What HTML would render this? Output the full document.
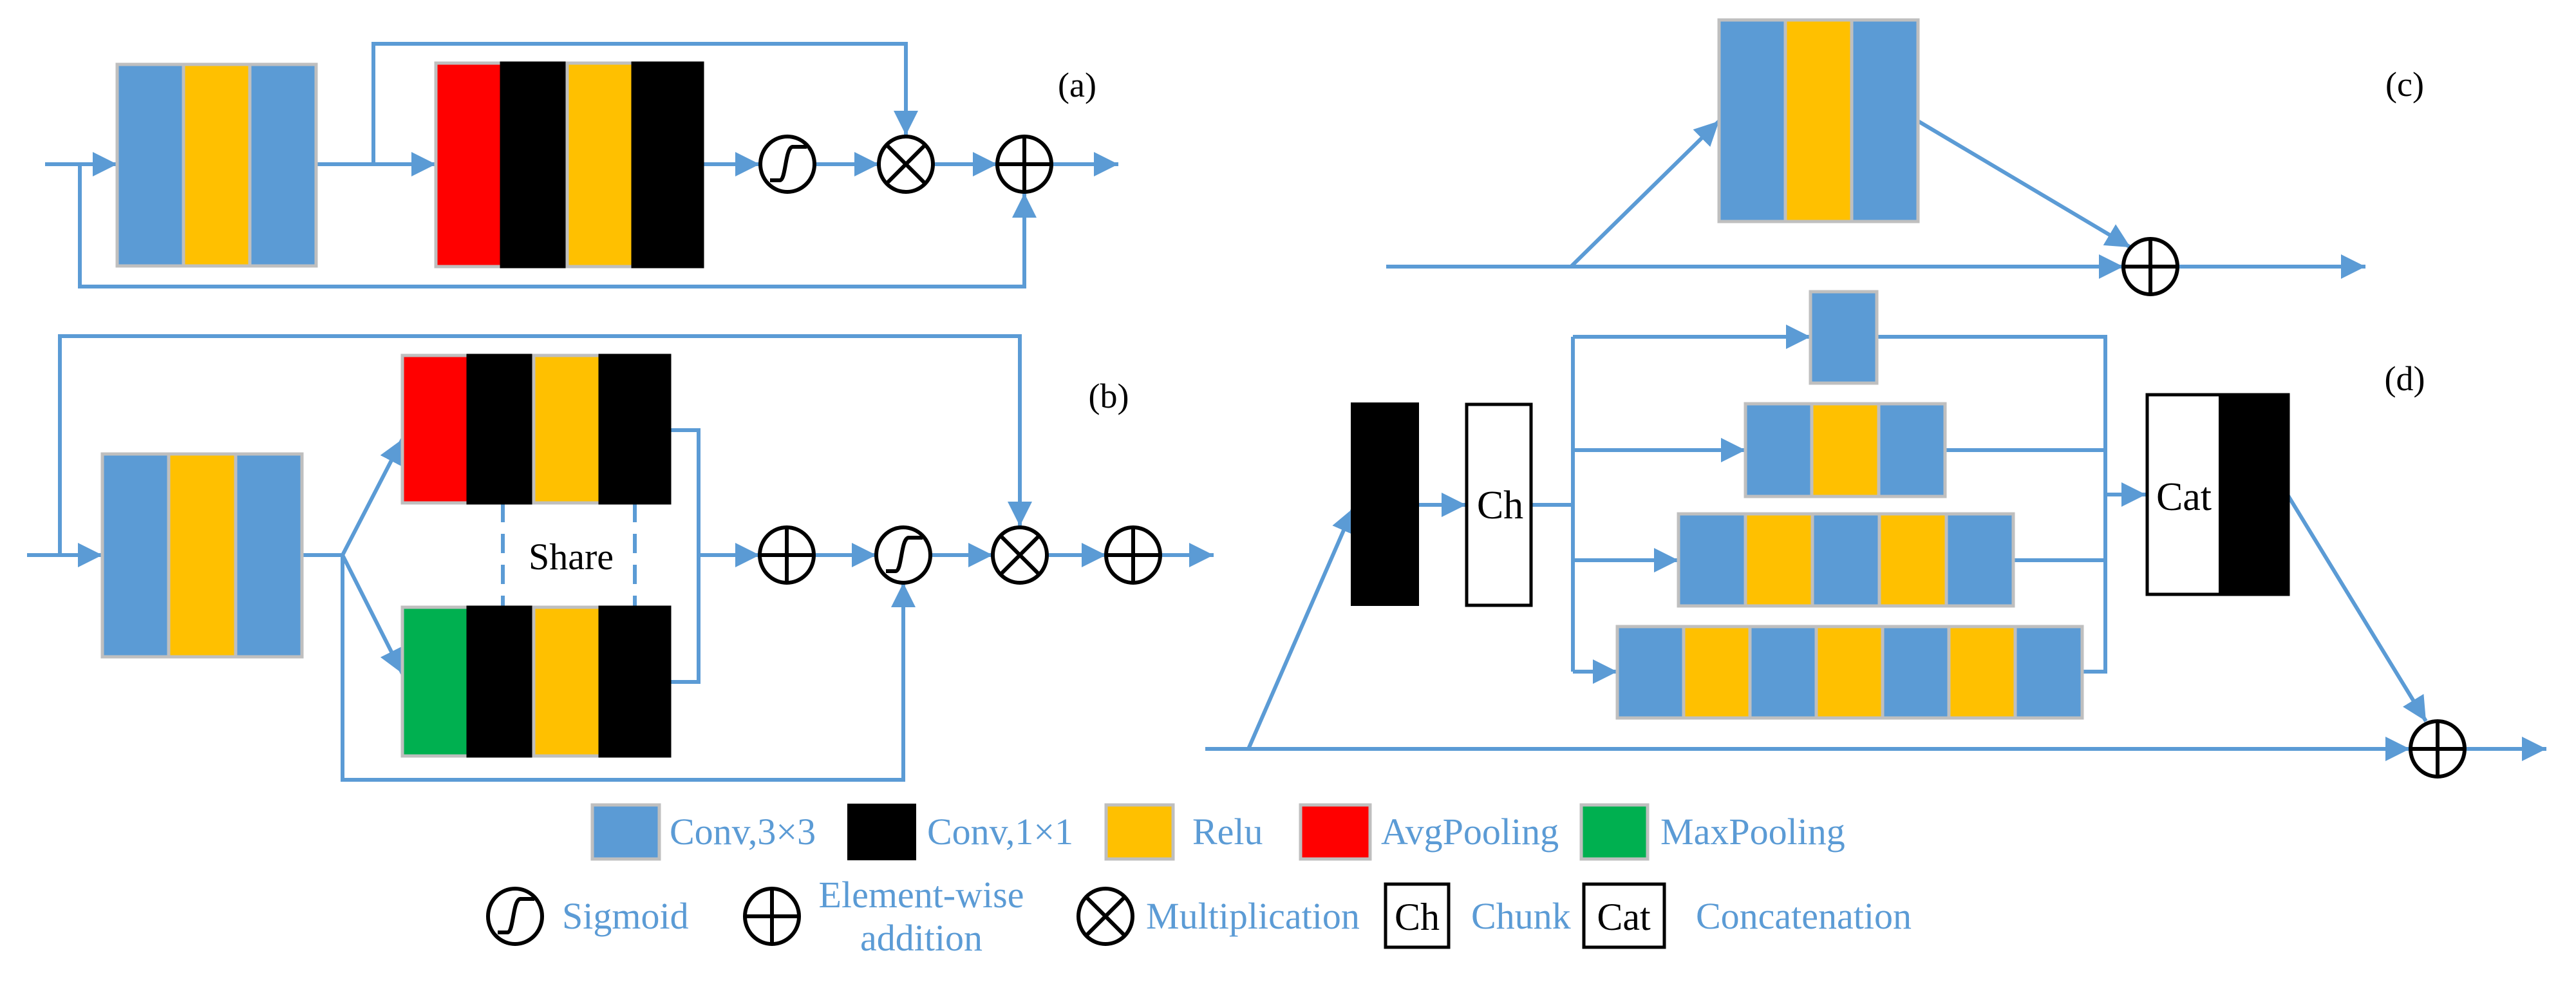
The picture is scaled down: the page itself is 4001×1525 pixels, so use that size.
<!DOCTYPE html>
<html><head><meta charset="utf-8"><style>html,body{margin:0;padding:0;background:#fff}svg{display:block}text{font-family:"Liberation Serif","Times New Roman",serif}</style></head><body>
<svg width="4001" height="1525" viewBox="0 0 4001 1525" xmlns="http://www.w3.org/2000/svg">
<defs>
<marker id="ar" markerUnits="userSpaceOnUse" markerWidth="40" markerHeight="40" refX="38" refY="19" orient="auto"><path d="M0,0 L38,19 L0,38 z" fill="#5b9bd5"/></marker>
<g id="sig"><ellipse cx="0" cy="0" rx="42" ry="43" fill="#fff" stroke="#000" stroke-width="6"/><path d="M-27,25 H-12 C-2,25 -4,-25 8,-27 H30" fill="none" stroke="#000" stroke-width="6"/></g>
<g id="add"><ellipse cx="0" cy="0" rx="42" ry="43" fill="#fff" stroke="#000" stroke-width="6"/><path d="M0,-43 V43 M-42,0 H42" stroke="#000" stroke-width="6"/></g>
<g id="mul"><ellipse cx="0" cy="0" rx="42" ry="43" fill="#fff" stroke="#000" stroke-width="6"/><path d="M-30,-30 L30,30 M30,-30 L-30,30" stroke="#000" stroke-width="6"/></g>
</defs>
<g fill="none" stroke="#5b9bd5" stroke-width="6">
<path d="M70,255 H182" marker-end="url(#ar)"/>
<path d="M124,255 V445 H1591 V300" marker-end="url(#ar)"/>
<path d="M491,255 H677" marker-end="url(#ar)"/>
<path d="M580,255 V68 H1407 V210" marker-end="url(#ar)"/>
<path d="M1091,255 H1180" marker-end="url(#ar)"/>
<path d="M1266,255 H1365" marker-end="url(#ar)"/>
<path d="M1450,255 H1549" marker-end="url(#ar)"/>
<path d="M1634,255 H1737" marker-end="url(#ar)"/>
<path d="M42,862 H159" marker-end="url(#ar)"/>
<path d="M93,862 V522 H1584 V817" marker-end="url(#ar)"/>
<path d="M469,862 H532"/>
<path d="M532,862 L625,682" marker-end="url(#ar)"/>
<path d="M532,862 L625,1046" marker-end="url(#ar)"/>
<path d="M532,862 V1211 H1403 V905" marker-end="url(#ar)"/>
<path d="M1040,668 H1085 V1059 H1040"/>
<path d="M1085,862 H1180" marker-end="url(#ar)"/>
<path d="M1264,862 H1361" marker-end="url(#ar)"/>
<path d="M1445,862 H1542" marker-end="url(#ar)"/>
<path d="M1626,862 H1718" marker-end="url(#ar)"/>
<path d="M1802,862 H1885" marker-end="url(#ar)"/>
<path d="M2153,414 H3298" marker-end="url(#ar)"/>
<path d="M2440,414 L2670,188" marker-end="url(#ar)"/>
<path d="M2979,188 L3309,384" marker-end="url(#ar)"/>
<path d="M3382,414 H3674" marker-end="url(#ar)"/>
<path d="M1872,1163 H3743" marker-end="url(#ar)"/>
<path d="M1939,1163 L2102,789" marker-end="url(#ar)"/>
<path d="M2204,784 H2277" marker-end="url(#ar)"/>
<path d="M2379,784 H2443 M2443,523 V1043"/>
<path d="M2443,523 H2812" marker-end="url(#ar)"/>
<path d="M2443,699 H2711" marker-end="url(#ar)"/>
<path d="M2443,870 H2607" marker-end="url(#ar)"/>
<path d="M2443,1043 H2512" marker-end="url(#ar)"/>
<path d="M2915,523 H3270 V1043 H3234 M3021,699 H3270 M3127,870 H3270"/>
<path d="M3270,768 H3333" marker-end="url(#ar)"/>
<path d="M3554,770 L3768,1120" marker-end="url(#ar)"/>
<path d="M3829,1163 H3955" marker-end="url(#ar)"/>
<path d="M781,781 V943 M986,781 V943" stroke-dasharray="30,18"/>
</g>
<g stroke="#bfbfbf" stroke-width="5">
<rect x="182" y="100" width="103" height="313" fill="#5b9bd5"/><rect x="285" y="100" width="103" height="313" fill="#ffc000"/><rect x="388" y="100" width="103" height="313" fill="#5b9bd5"/>
<rect x="677" y="98" width="102" height="316" fill="#ff0000"/><rect x="779" y="98" width="102" height="316" fill="#000" stroke="#000"/><rect x="881" y="98" width="102" height="316" fill="#ffc000"/><rect x="983" y="98" width="108" height="316" fill="#000" stroke="#000"/>
<rect x="159" y="705" width="103" height="315" fill="#5b9bd5"/><rect x="262" y="705" width="104" height="315" fill="#ffc000"/><rect x="366" y="705" width="103" height="315" fill="#5b9bd5"/>
<rect x="625" y="552" width="102" height="229" fill="#ff0000"/><rect x="727" y="552" width="102" height="229" fill="#000" stroke="#000"/><rect x="829" y="552" width="103" height="229" fill="#ffc000"/><rect x="932" y="552" width="108" height="229" fill="#000" stroke="#000"/>
<rect x="625" y="943" width="102" height="231" fill="#00b050"/><rect x="727" y="943" width="102" height="231" fill="#000" stroke="#000"/><rect x="829" y="943" width="103" height="231" fill="#ffc000"/><rect x="932" y="943" width="108" height="231" fill="#000" stroke="#000"/>
<rect x="2670" y="31" width="103" height="313" fill="#5b9bd5"/><rect x="2773" y="31" width="103" height="313" fill="#ffc000"/><rect x="2876" y="31" width="103" height="313" fill="#5b9bd5"/>
<rect x="2812" y="453" width="103" height="142" fill="#5b9bd5"/>
<rect x="2711" y="627" width="103" height="144" fill="#5b9bd5"/><rect x="2814" y="627" width="104" height="144" fill="#ffc000"/><rect x="2918" y="627" width="103" height="144" fill="#5b9bd5"/>
<rect x="2607" y="798" width="104" height="143" fill="#5b9bd5"/><rect x="2711" y="798" width="104" height="143" fill="#ffc000"/><rect x="2815" y="798" width="104" height="143" fill="#5b9bd5"/><rect x="2919" y="798" width="104" height="143" fill="#ffc000"/><rect x="3023" y="798" width="104" height="143" fill="#5b9bd5"/>
<rect x="2512" y="973" width="103" height="142" fill="#5b9bd5"/><rect x="2615" y="973" width="103" height="142" fill="#ffc000"/><rect x="2718" y="973" width="103" height="142" fill="#5b9bd5"/><rect x="2821" y="973" width="103" height="142" fill="#ffc000"/><rect x="2924" y="973" width="103" height="142" fill="#5b9bd5"/><rect x="3027" y="973" width="103" height="142" fill="#ffc000"/><rect x="3130" y="973" width="104" height="142" fill="#5b9bd5"/>
<rect x="920" y="1250" width="104" height="84" fill="#5b9bd5"/>
<rect x="1718" y="1250" width="104" height="84" fill="#ffc000"/>
<rect x="2020" y="1250" width="108" height="84" fill="#ff0000"/>
<rect x="2456" y="1250" width="103" height="84" fill="#00b050"/>
</g>
<rect x="1316" y="1248" width="107" height="88" fill="#000"/>
<rect x="2098" y="625" width="106" height="316" fill="#000"/>
<rect x="2278" y="628" width="100" height="312" fill="#fff" stroke="#000" stroke-width="5"/>
<rect x="3335" y="613" width="219" height="310" fill="#fff" stroke="#000" stroke-width="5"/>
<rect x="3446" y="611" width="108" height="313" fill="#000"/>
<rect x="2152" y="1373" width="98" height="98" fill="#fff" stroke="#000" stroke-width="5"/>
<rect x="2460" y="1373" width="125" height="98" fill="#fff" stroke="#000" stroke-width="5"/>
<use href="#sig" x="1223" y="255"/><use href="#mul" x="1407" y="255"/><use href="#add" x="1591" y="255"/>
<use href="#add" x="1222" y="862"/><use href="#sig" x="1403" y="862"/><use href="#mul" x="1584" y="862"/><use href="#add" x="1760" y="862"/>
<use href="#add" x="3340" y="414"/><use href="#add" x="3786" y="1163"/>
<use href="#sig" x="800" y="1423"/><use href="#add" x="1199" y="1423"/><use href="#mul" x="1717" y="1423"/>
<g font-size="54" fill="#000">
<text x="1673" y="150" text-anchor="middle">(a)</text>
<text x="1722" y="633" text-anchor="middle">(b)</text>
<text x="3735" y="149" text-anchor="middle">(c)</text>
<text x="3735" y="606" text-anchor="middle">(d)</text>
<text x="887" y="884" text-anchor="middle" font-size="58">Share</text>
<text x="2330" y="805" text-anchor="middle" font-size="62">Ch</text>
<text x="3392" y="792" text-anchor="middle" font-size="62">Cat</text>
<text x="2201" y="1444" text-anchor="middle" font-size="60">Ch</text>
<text x="2522" y="1444" text-anchor="middle" font-size="60">Cat</text>
</g>
<g font-size="58" fill="#5b9bd5">
<text x="1040" y="1311">Conv,3×3</text>
<text x="1440" y="1311">Conv,1×1</text>
<text x="1852" y="1311">Relu</text>
<text x="2145" y="1311">AvgPooling</text>
<text x="2579" y="1311">MaxPooling</text>
<text x="873" y="1442">Sigmoid</text>
<text x="1431" y="1409" text-anchor="middle">Element-wise</text>
<text x="1431" y="1476" text-anchor="middle">addition</text>
<text x="1780" y="1442">Multiplication</text>
<text x="2285" y="1442">Chunk</text>
<text x="2634" y="1442">Concatenation</text>
</g>
</svg>
</body></html>
